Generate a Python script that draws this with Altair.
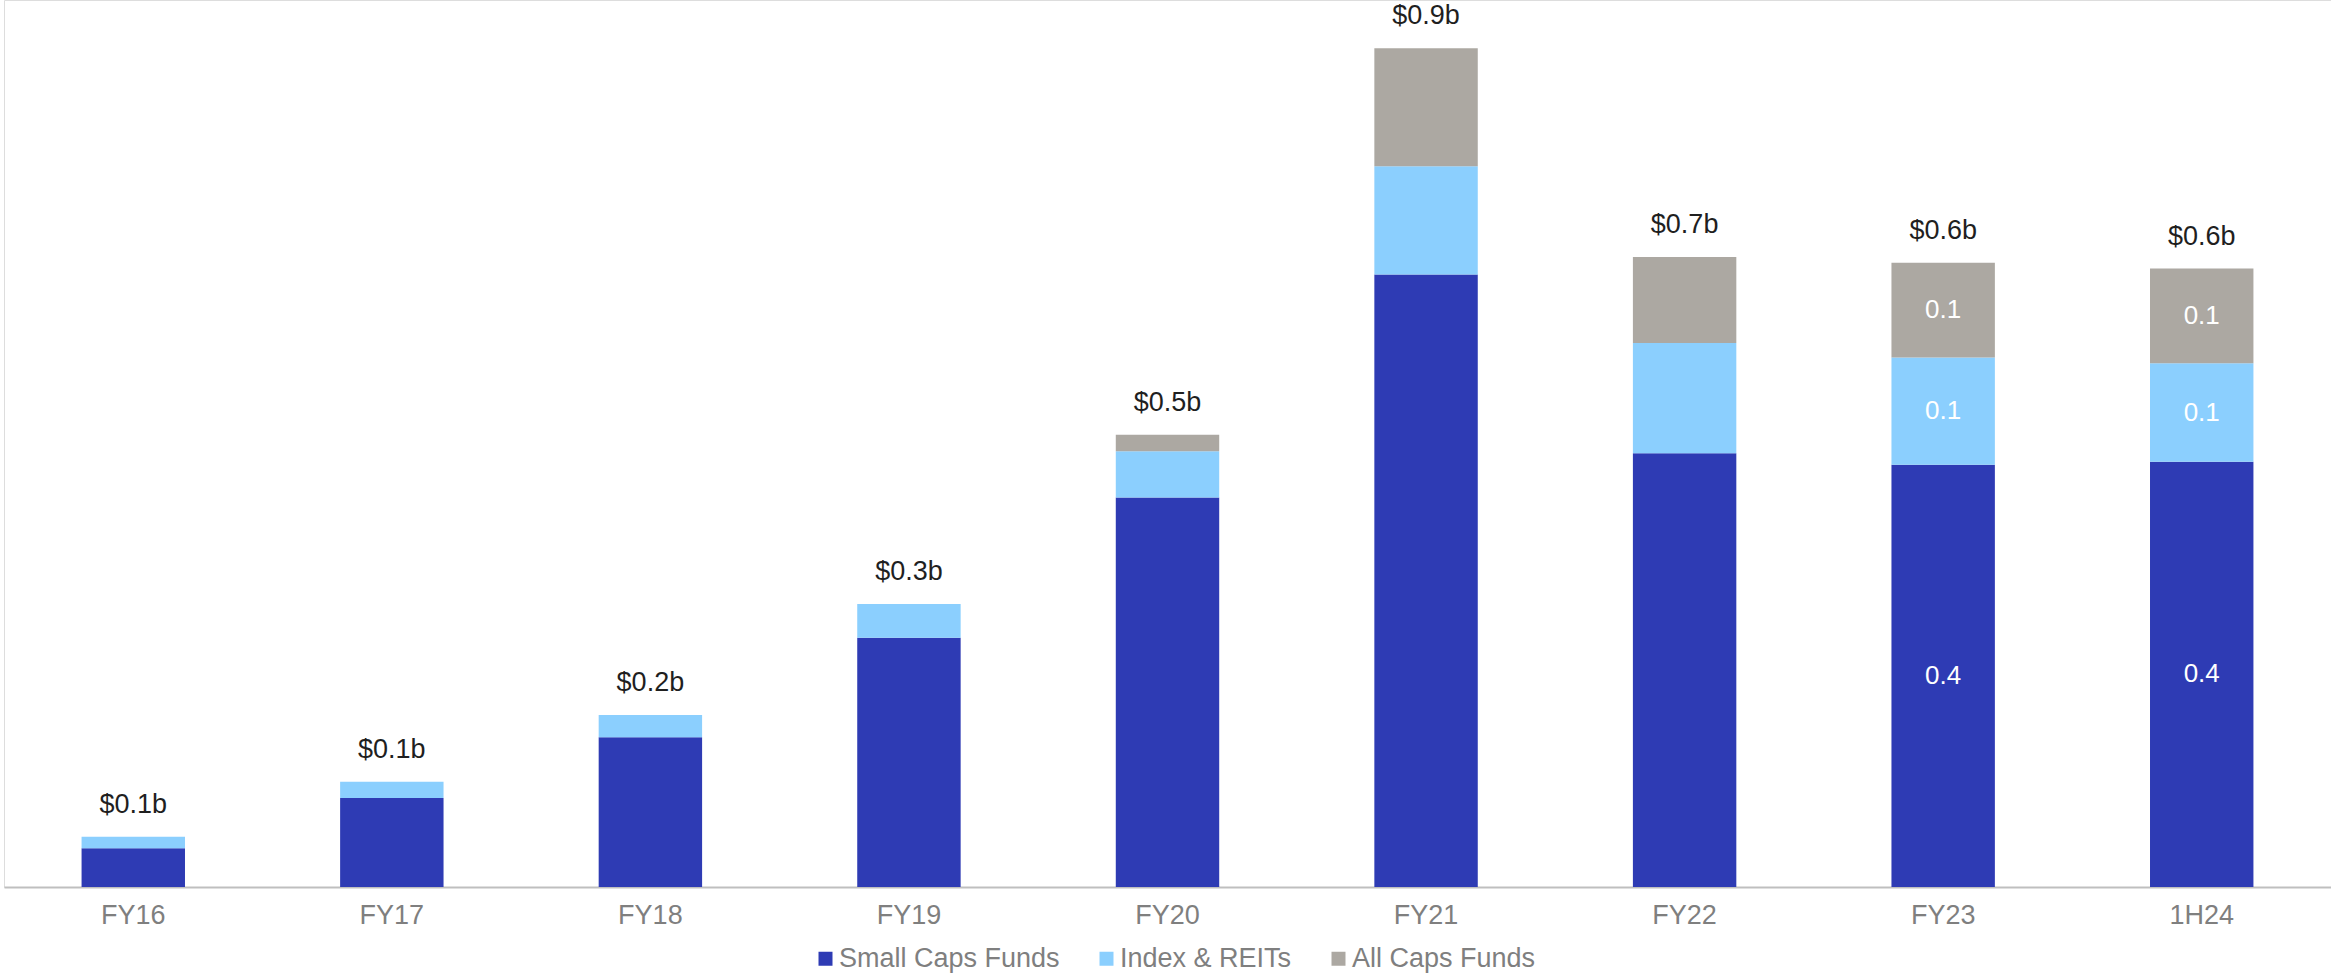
import altair as alt
import pandas as pd

categories = ["FY16", "FY17", "FY18", "FY19", "FY20", "FY21", "FY22", "FY23", "1H24"]
small_caps = [0.040, 0.092, 0.155, 0.258, 0.403, 0.634, 0.449, 0.437, 0.440]
index_reits = [0.012, 0.017, 0.023, 0.035, 0.048, 0.112, 0.114, 0.111, 0.102]
all_caps = [0.0, 0.0, 0.0, 0.0, 0.017, 0.122, 0.089, 0.098, 0.098]
total_labels = ["$0.1b", "$0.1b", "$0.2b", "$0.3b", "$0.5b", "$0.9b", "$0.7b", "$0.6b", "$0.6b"]
series_names = ["Small Caps Funds", "Index & REITs", "All Caps Funds"]
series_colors = ["#2E3BB4", "#8BCFFE", "#ACA8A2"]
# segment labels shown only for the last two bars
inner_labels = {
    "FY23": ["0.4", "0.1", "0.1"],
    "1H24": ["0.4", "0.1", "0.1"],
}

FONT = "Liberation Sans"

rows = []
for i, cat in enumerate(categories):
    vals = [small_caps[i], index_reits[i], all_caps[i]]
    for k, s in enumerate(series_names):
        lab = inner_labels.get(cat, ["", "", ""])[k]
        rows.append({"cat": cat, "series": s, "value": vals[k], "order": k, "lab": lab})
df = pd.DataFrame(rows)

tot = pd.DataFrame({
    "cat": categories,
    "total": [small_caps[i] + index_reits[i] + all_caps[i] for i in range(len(categories))],
    "label": total_labels,
})

x_enc = alt.X(
    "cat:N",
    sort=categories,
    scale=alt.Scale(paddingInner=0.6, paddingOuter=0.3),
    axis=alt.Axis(
        title=None, labelAngle=0, ticks=False, domainColor="#BFBFBF", domainWidth=2,
        labelColor="#7F7F7F", labelFontSize=27, labelFont=FONT, labelPadding=15,
    ),
)
y_scale = alt.Scale(domain=[0, 0.918], nice=False, zero=True)

bars = alt.Chart(df).mark_bar().encode(
    x=x_enc,
    y=alt.Y("value:Q", scale=y_scale, axis=None, stack="zero"),
    color=alt.Color(
        "series:N",
        scale=alt.Scale(domain=series_names, range=series_colors),
        legend=alt.Legend(
            title=None, orient="none", legendX=808, legendY=945, direction="horizontal",
            symbolType="square", symbolSize=196, symbolStrokeWidth=0,
            labelFontSize=27, labelFont=FONT, labelColor="#7F7F7F", labelLimit=0,
            labelOffset=0, columnPadding=33,
        ),
    ),
    order=alt.Order("order:Q", sort="ascending"),
)

inner = alt.Chart(df).transform_stack(
    stack="value", groupby=["cat"], as_=["y0", "y1"], sort=[alt.SortField("order")]
).transform_calculate(
    mid="(datum.y0 + datum.y1) / 2"
).transform_filter(
    "datum.lab != ''"
).mark_text(font=FONT, fontSize=26, color="white", baseline="middle").encode(
    x=alt.X("cat:N", sort=categories),
    y=alt.Y("mid:Q", scale=y_scale),
    text="lab:N",
)

totals = alt.Chart(tot).mark_text(
    font=FONT, fontSize=27, color="#1F1F1F", baseline="middle", dy=-32
).encode(
    x=alt.X("cat:N", sort=categories),
    y=alt.Y("total:Q", scale=y_scale),
    text="label:N",
)

chart = alt.layer(bars, inner, totals).properties(
    width=2327, height=887,
    padding={"left": 4, "right": 0, "top": 0, "bottom": 86},
    autosize=alt.AutoSizeParams(type="none"),
).configure_view(strokeWidth=0).configure(background="white")

chart.save("out.html", embed_options={"renderer": "svg", "actions": False})
